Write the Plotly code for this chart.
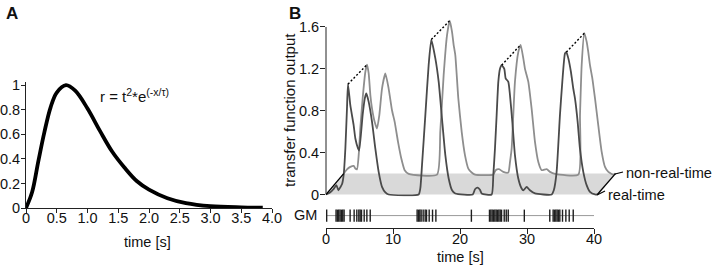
import plotly.graph_objects as go

# ---------------- data ----------------
# Panel A: response kernel
a_time = [0, 0.1, 0.2, 0.3, 0.4, 0.5, 0.65, 0.8, 1.0, 1.2, 1.4, 1.6, 1.8, 2.0, 2.3, 2.6, 3.0, 3.5, 3.85]
a_resp = [0, 0.13, 0.38, 0.62, 0.82, 0.94, 1.0, 0.955, 0.81, 0.63, 0.46, 0.33, 0.22, 0.15, 0.08, 0.04, 0.015, 0.005, 0.002]
a_xtick_vals = [0, 0.5, 1.0, 1.5, 2.0, 2.5, 3.0, 3.5, 4.0]
a_xtick_text = ["0", "0.5", "1.0", "1.5", "2.0", "2.5", "3.0", "3.5", "4.0"]
a_ytick_vals = [0, 0.2, 0.4, 0.6, 0.8, 1.0]
a_ytick_text = ["0", "0.2", "0.4", "0.6", "0.8", "1"]

# Panel B: real-time transfer function output
rt_t = [0, 0.6, 1.1, 1.55, 1.85, 2.15, 2.4, 2.64, 2.89, 3.13, 3.28, 3.63, 4.13, 4.38, 4.78, 4.95,
        5.47, 5.8, 6.02, 6.37, 6.87, 7.36, 7.86, 8.36, 8.86, 9.35, 13.83, 14.08, 14.33, 14.83, 15.32,
        15.72, 16.32, 16.82, 17.31, 17.81, 18.31, 18.81, 19.3, 21.9, 22.24, 22.63, 22.98, 23.23, 24.72,
        24.97, 25.22, 25.47, 25.72, 25.97, 26.22, 26.61, 26.81, 27.21, 27.46, 27.81, 28.2, 28.7, 29.2,
        29.45, 29.95, 30.44, 31.19, 33.68, 34.0, 34.42, 34.92, 35.27, 35.67, 35.87, 36.17, 36.56, 36.91,
        37.16, 37.56, 37.9, 38.4, 38.9, 39.4, 40.15, 40.5]
rt_y = [0, 0.02, 0.05, 0.09, 0.04, 0.07, 0.1, 0.19, 0.44, 0.82, 1.054, 0.853, 0.66, 0.535, 0.44, 0.42,
        0.76, 0.92, 0.965, 0.885, 0.694, 0.44, 0.216, 0.073, 0.02, 0, 0, 0.06, 0.28, 0.76, 1.235,
        1.48, 1.30, 1.076, 0.726, 0.376, 0.153, 0.041, 0.01, 0, 0.05, 0.065, 0.045, 0.01, 0,
        0.185, 0.44, 0.76, 1.076, 1.2, 1.235, 1.2, 1.11, 1.076, 0.95, 0.694, 0.376, 0.153, 0.057,
        0.04, 0.073, 0.04, 0.01, 0, 0.04, 0.216, 0.76, 1.076, 1.347, 1.36, 1.30, 1.17, 1.01,
        0.917, 0.694, 0.44, 0.216, 0.089, 0.025, 0, 0]

# Panel B: non-real-time transfer function output (drawn offset)
nrt_t = [2.64, 3.13, 3.63, 4.13, 4.38, 4.63, 4.88, 5.12, 5.47, 5.87, 6.12, 6.37, 6.62, 6.87, 7.26, 7.61,
         7.96, 8.36, 8.86, 9.35, 9.85, 10.25, 10.75, 11.24, 11.74, 12.34, 16.57, 17.06, 17.56, 18.06,
         18.46, 18.81, 19.05, 19.3, 19.75, 20.25, 20.74, 21.24, 21.74, 22.24, 24.97, 25.32, 25.82,
         26.46, 27.21, 27.46, 27.71, 28.2, 28.7, 29.05, 29.45, 29.7, 30.2, 30.69, 31.19, 31.69, 32.19,
         32.93, 33.43, 34.18, 37.66, 37.91, 38.16, 38.55, 38.9, 39.15, 39.4, 39.75, 40.15, 40.64,
         41.14, 41.64, 42.14, 42.88, 43.2]
nrt_y = [0.2, 0.24, 0.264, 0.274, 0.248, 0.24, 0.376, 0.63, 0.917, 1.17, 1.24, 1.156, 0.95, 0.82, 0.694, 0.63,
         0.758, 1.012, 1.156, 1.012, 0.805, 0.694, 0.503, 0.344, 0.232, 0.197, 0.19, 0.6, 1.14, 1.52,
         1.66, 1.554, 1.43, 1.33, 0.917, 0.6, 0.376, 0.248, 0.21, 0.19, 0.19, 0.232, 0.242,
         0.216, 0.21, 0.31, 0.44, 1.076, 1.36, 1.43, 1.30, 1.2, 1.076, 0.82, 0.503, 0.31, 0.232,
         0.242, 0.216, 0.197, 0.19, 0.758, 1.235, 1.54, 1.46, 1.36, 1.235, 1.11, 0.917, 0.66,
         0.41, 0.264, 0.216, 0.19, 0.2]

# peaks joined by dashed lines
rt_peak_t = [3.28, 15.72, 26.22, 35.87]
rt_peak_y = [1.054, 1.48, 1.235, 1.36]
nrt_peak_t = [6.12, 18.46, 29.05, 38.55]
nrt_peak_y = [1.24, 1.66, 1.43, 1.54]

# grey "floor" between the two traces
band_t = [0, 40.5, 43.2, 2.64]
band_y = [0, 0, 0.2, 0.2]

b_ytick_vals = [0, 0.4, 0.8, 1.2, 1.6]
b_ytick_text = ["0", "0.4", "0.8", "1.2", "1.6"]
b_xtick_vals = [0, 10, 20, 30, 40]

# GM spike raster
gm_spikes = [0.1, 1.5, 1.7, 1.9, 2.1, 2.3, 2.5, 2.7, 3.6, 4.2, 4.6, 4.9, 5.1, 5.3, 5.7, 6.1, 6.6,
             13.6, 13.8, 14.0, 14.2, 14.5, 14.8, 15.0, 15.4, 15.9, 16.4, 21.7,
             24.4, 24.6, 24.8, 25.0, 25.2, 25.4, 25.6, 25.8, 26.0, 26.2, 26.6, 26.9, 27.2, 29.6,
             33.4, 33.9, 34.1, 34.3, 34.5, 34.7, 34.9, 35.3, 35.8, 36.3, 36.9]
gm_span = [0, 40]

assert len(rt_t) == len(rt_y) and len(nrt_t) == len(nrt_y) and len(a_time) == len(a_resp)

# ---------------- figure ----------------
W, H = 715, 268
def px(x):
    return x / W
def py(y):
    return 1 - y / H

FONT = "Liberation Sans, Arial, sans-serif"
TXT = "#111111"
RT_COL = "#4a4a4a"
NRT_COL = "#8e8e8e"
TICK_SIZE = 14.5
B_UNIT = 104.7          # px per output unit in panel B
B_ZERO = 194.5          # px row of output 0
B_RANGE = [-0.02, 1.72]

fig = go.Figure()

# Panel A
fig.add_trace(go.Scatter(x=a_time, y=a_resp, mode="lines", line=dict(color="black", width=3.8, shape="spline"),
                         xaxis="x", yaxis="y", hoverinfo="skip"))

# Panel B floor band
fig.add_trace(go.Scatter(x=band_t + [band_t[0]], y=band_y + [band_y[0]], mode="lines", fill="toself",
                         fillcolor="#d9d9d9", line=dict(width=0, color="#d9d9d9"),
                         xaxis="x2", yaxis="y2", hoverinfo="skip"))
# curves
fig.add_trace(go.Scatter(x=nrt_t, y=nrt_y, mode="lines",
                         line=dict(color=NRT_COL, width=1.8, shape="spline", smoothing=0.5),
                         xaxis="x2", yaxis="y2", hoverinfo="skip"))
fig.add_trace(go.Scatter(x=rt_t, y=rt_y, mode="lines",
                         line=dict(color=RT_COL, width=1.8, shape="spline", smoothing=0.5),
                         xaxis="x2", yaxis="y2", hoverinfo="skip"))
# band edges
fig.add_trace(go.Scatter(x=[band_t[0], band_t[3]], y=[band_y[0], band_y[3]], mode="lines",
                         line=dict(color="black", width=1.3), xaxis="x2", yaxis="y2", hoverinfo="skip"))
fig.add_trace(go.Scatter(x=[band_t[1], band_t[2]], y=[band_y[1], band_y[2]], mode="lines",
                         line=dict(color="black", width=1.3), xaxis="x2", yaxis="y2", hoverinfo="skip"))
# dashed peak connectors
for i in range(len(rt_peak_t)):
    fig.add_trace(go.Scatter(x=[rt_peak_t[i], nrt_peak_t[i]], y=[rt_peak_y[i], nrt_peak_y[i]], mode="lines",
                             line=dict(color="black", width=1.4, dash="2px,2px"),
                             xaxis="x2", yaxis="y2", hoverinfo="skip"))

# GM raster
fig.add_trace(go.Scatter(x=gm_span, y=[0.54, 0.54], mode="lines", line=dict(color="#9a9a9a", width=1),
                         xaxis="x3", yaxis="y3", hoverinfo="skip"))
sx, sy = [], []
for t in gm_spikes:
    sx += [t, t, None]
    sy += [0.27, 0.8, None]
fig.add_trace(go.Scatter(x=sx, y=sy, mode="lines", line=dict(color="#1e1e1e", width=1.4),
                         xaxis="x3", yaxis="y3", hoverinfo="skip"))

axis_common = dict(showgrid=False, zeroline=False, showline=True, linecolor="#222", linewidth=1,
                   ticks="outside", tickcolor="#222", tickwidth=1, automargin=False,
                   tickfont=dict(family=FONT, size=TICK_SIZE, color=TXT), fixedrange=True)
b_y_axis = dict(axis_common)
b_y_axis["showline"] = False

fig.update_layout(
    template="none",
    width=W, height=H, margin=dict(l=0, r=0, t=0, b=0, pad=0, autoexpand=False),
    paper_bgcolor="white", plot_bgcolor="white", showlegend=False,
    font=dict(family=FONT, color=TXT),
    xaxis=dict(domain=[px(26), px(272)], range=[0, 4], tickvals=a_xtick_vals, ticktext=a_xtick_text,
               ticklen=4, anchor="y", ticklabelstandoff=-7, **axis_common),
    yaxis=dict(domain=[py(208), py(81.5)], range=[0, 1.03], tickvals=a_ytick_vals, ticktext=a_ytick_text,
               ticklen=4, anchor="x", ticklabelstandoff=-2, **axis_common),
    xaxis2=dict(domain=[px(326), px(326 + 44 * 6.7)], range=[0, 44], visible=False, anchor="y2",
                fixedrange=True, automargin=False),
    yaxis2=dict(domain=[py(B_ZERO - B_RANGE[0] * B_UNIT), py(B_ZERO - B_RANGE[1] * B_UNIT)], range=B_RANGE,
                tickvals=b_ytick_vals, ticktext=b_ytick_text,
                ticklen=5, anchor="x2", ticklabelstandoff=-2, **b_y_axis),
    xaxis3=dict(domain=[px(326), px(594)], range=[0, 40], tickvals=b_xtick_vals, ticklen=5, anchor="y3",
                ticklabelstandoff=-7, **axis_common),
    yaxis3=dict(domain=[py(228), py(205)], range=[0, 1], visible=False, anchor="x3", fixedrange=True,
                automargin=False),
)

# panel B y-axis line, only over the labelled span
fig.add_shape(type="line", xref="paper", yref="y2", x0=px(326), x1=px(326),
              y0=b_ytick_vals[0], y1=b_ytick_vals[-1], line=dict(color="#222", width=1))

def ann(text, x, y, size=14.5, xanchor="center", yanchor="middle", bold=False, angle=0):
    fig.add_annotation(text=f"<b>{text}</b>" if bold else text, x=px(x), y=py(y), xref="paper", yref="paper",
                       showarrow=False, xanchor=xanchor, yanchor=yanchor, textangle=angle,
                       font=dict(family=FONT, size=size, color=TXT))

ann("A", 4, 2, size=17, xanchor="left", yanchor="top", bold=True)
ann("B", 287, 2, size=17, xanchor="left", yanchor="top", bold=True)
ann("r = t<sup>2</sup>*e<sup>(-x/τ)</sup>", 98, 95, size=15, xanchor="left")
ann("time [s]", 147, 242, size=14.5)
ann("time [s]", 460, 256.5, size=14.5)
ann("transfer function output", 290, 110, size=15, angle=-90)
ann("GM", 319, 215, size=14.5, xanchor="right")
ann("non-real-time", 624, 173, size=14.6, xanchor="left")
ann("real-time", 606, 195, size=14.6, xanchor="left")

# label leaders
fig.add_shape(type="line", xref="paper", yref="paper", x0=px(615), y0=py(174), x1=px(623), y1=py(172),
              line=dict(color="black", width=1.2))
fig.add_shape(type="line", xref="paper", yref="paper", x0=px(597), y0=py(195), x1=px(605), y1=py(191),
              line=dict(color="black", width=1.2))

fig.write_html("out.html", config={"displayModeBar": False},
               post_script="document.body.style.margin='0';document.body.style.padding='0';")
